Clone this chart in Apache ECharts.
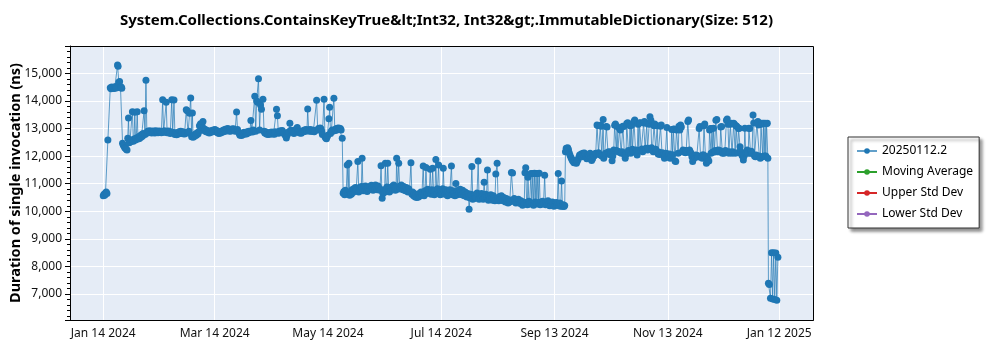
<!DOCTYPE html>
<html>
<head>
<meta charset="utf-8">
<script src="https://cdn.jsdelivr.net/npm/echarts@6/dist/echarts.min.js"></script>
<style>
  html, body { margin: 0; padding: 0; background: #ffffff; }
  #chart { width: 1000px; height: 350px; }
</style>
</head>
<body>
<div id="chart"></div>
<script>
// Benchmark history: one point per run, x = days after the first run, y = ns per call.
const FIRST_RUN = '2024-01-14';
const chartTitle = 'System.Collections.ContainsKeyTrue&lt;Int32, Int32&gt;.ImmutableDictionary(Size: 512)';
const yAxisTitle = 'Duration of single invocation (ns)';
const seriesNames = ['20250112.2', 'Moving Average', 'Upper Std Dev', 'Lower Std Dev'];
const dateTicks = ['2024-01-14', '2024-03-14', '2024-05-14', '2024-07-14', '2024-09-13', '2024-11-13', '2025-01-12'];

// January - May 2024
const winterSpring = [
  [0,10560],[0.4,10620],[0.8,10580],[1.2,10660],[1.6,10700],[2,10640],[2.5,12580],[3.8,14480],[4.2,14440],[4.6,14500],
  [5,14460],[5.4,14490],[5.8,14450],[6.2,14480],[6.6,14520],[7,14470],[7.7,15300],[8,15260],[8.4,14680],[8.8,14700],
  [9.3,14480],[9.7,14500],[10,14460],[10.4,12470],[10.8,12400],[11.2,12360],[11.6,12300],[12,12280],[12.4,12250],[12.8,12220],
  [13.2,12650],[13.6,13380],[14,12480],[14.4,12560],[14.8,12520],[15.2,12580],[15.7,13610],[16.2,12540],[16.6,12620],[17,13590],
  [17.4,12580],[17.8,12660],[18.3,13610],[18.7,12620],[19.1,12700],[19.5,12640],[19.9,12740],[20.3,12680],[20.7,12780],[21.1,12720],
  [21.5,12820],[22,13640],[22.5,12780],[23,14750],[23.5,12840],[23.9,12900],[24.3,12850],[24.8,12920],[25.2,12860],[25.6,12900],
  [26.1,12840],[26.5,12910],[26.9,12860],[27.4,12900],[27.8,12840],[28.2,12920],[28.7,12860],[29.1,12900],[29.5,12850],[30,12910],
  [30.4,12860],[30.8,12900],[31.3,12850],[32,14040],[32.5,12860],[32.9,12920],[33.4,12870],[33.9,13950],[34.4,12850],[34.8,12910],
  [35.3,12860],[35.7,12900],[36.1,12820],[36.9,14040],[37.4,12860],[38.1,14030],[38.6,12780],[39,12850],[39.5,12770],[39.9,12840],
  [40.4,12800],[40.8,12880],[41.2,12830],[41.7,12900],[42.1,12840],[42.5,12880],[43,12810],[43.4,12870],[43.8,12800],[44.7,13680],
  [45.2,13640],[45.7,12840],[46.1,12900],[46.5,13550],[47.1,14110],[47.6,12700],[48,13560],[48.4,12680],[48.8,12760],[49.2,12720],
  [49.7,12800],[50.1,12760],[50.5,12840],[51,12800],[51.4,12880],[51.8,13100],[52.4,13170],[52.8,13080],[53.1,13120],[53.7,13250],
  [54.1,13000],[54.5,12920],[55,12960],[55.4,12880],[55.8,12930],[56.3,12860],[56.7,12910],[57.1,12840],[57.6,12900],[58,12860],
  [58.4,12930],[58.9,12880],[59.3,12950],[59.7,12900],[60.2,12960],[60.6,12890],[61,12930],[61.5,12850],[61.9,12900],[62.3,12820],
  [62.8,12880],[63.2,12840],[63.6,12900],[64.1,12860],[64.5,12940],[64.9,12890],[65.4,12960],[65.8,12900],[66.2,12980],[66.7,12930],
  [67.1,13000],[67.5,12950],[68,12900],[68.4,12960],[68.8,12910],[69.3,12980],[69.7,12930],[70.1,12990],[70.6,12940],[71,12900],
  [71.8,13600],[72.3,12960],[72.8,12880],[73.2,12820],[73.6,12760],[74,12800],[74.5,12750],[74.9,12820],[75.3,12780],[75.8,12860],
  [76.2,12800],[76.6,12850],[77.1,12800],[77.5,12880],[78,12840],[78.4,12900],[78.9,12860],[79.5,13290],[80,12920],[80.4,12870],
  [80.8,12950],[81.6,14170],[82.1,12900],[82.6,14000],[83.1,13950],[83.6,14800],[84.2,12950],[84.7,13850],[85.2,13700],[86,14060],
  [86.6,12900],[87,12840],[87.4,12880],[87.9,12800],[88.3,12850],[88.7,12780],[89.2,12830],[89.6,12790],[90,12860],[90.5,12810],
  [90.9,12870],[91.3,12800],[91.8,12850],[92.2,12790],[92.6,12880],[93.3,13700],[93.8,13460],[94.3,12830],[94.7,12900],[95.1,12850],
  [95.6,12920],[96,12870],[96.4,12930],[96.9,12860],[97.3,12820],[97.8,12780],[98.2,12740],[98.6,12660],[99,12760],[99.4,12820],
  [99.9,12880],[100.5,13190],[101,12940],[101.4,12880],[101.8,12930],[102.3,12870],[102.7,12820],[103.1,12880],[103.6,12940],[104,12990],
  [104.5,13040],[104.9,12920],[105.3,12870],[105.8,12840],[106.2,12890],[106.6,12830],[107.1,12870],[107.5,12920],[107.9,12880],[108.4,12950],
  [108.8,12900],[109.2,12960],[109.7,12920],[110.1,13710],[110.6,12950],[111,12900],[111.4,12960],[111.9,12910],[112.3,12950],[112.7,12890],
  [113.2,12940],[113.6,12880],[114,12930],[114.9,14020],[115.5,12950],[115.9,13000],[116.3,12960],[116.8,13020],[117.2,12990],[117.6,12900],
  [118,12780],[118.9,14060],[119.4,12700],[119.8,12660],[120.2,12630],[120.6,12700],[120.9,12760],[121.5,13350],[121.9,13770],[122.4,12820],
  [122.8,12900],[123.3,12950],[123.7,12900],[124.2,14100],[124.7,12930],[125.1,12980],[125.5,12940],[126,13010],[126.4,12960],[126.8,13020],
  [127.2,12980],[127.7,13000],[128.1,12950],[128.7,12650]
];

// May - September 2024
const summer = [
  [129.2,10650],[129.6,10720],[130,10600],[130.4,10760],[130.8,10640],[131.4,11680],[131.9,10620],[132.3,11740],[132.7,10580],[133.1,10700],
  [133.6,10620],[134,10780],[134.4,10680],[134.9,10820],[135.3,10720],[135.8,10860],[136.2,10750],[136.6,10800],[137.1,11800],[137.6,10700],
  [138,10860],[138.5,10760],[139,10900],[139.4,11920],[139.9,10740],[140.3,10880],[140.8,10780],[141.2,10920],[141.7,10800],[142.1,10720],
  [142.6,10860],[143,10780],[143.5,10900],[143.9,10820],[144.4,10940],[144.8,10840],[145.3,10760],[145.7,10900],[146.2,10820],[146.6,10950],
  [147.1,10860],[147.5,10780],[148,10920],[148.5,10840],[149,10760],[149.6,11650],[150.2,10470],[150.6,10640],[151,10780],[151.5,10690],
  [151.9,11740],[152.4,10760],[152.8,10880],[153.2,11740],[153.7,10800],[154.1,10700],[154.6,10860],[155,10760],[155.5,10900],[155.9,10820],
  [156.4,10950],[156.8,10840],[157.3,10760],[157.7,10880],[158,11920],[158.5,10800],[159.1,11740],[159.6,10900],[160,10820],[160.5,10950],
  [160.9,10860],[161.4,10780],[161.8,10900],[162.3,10820],[162.7,10740],[163.2,10860],[163.6,10780],[164.1,10700],[164.5,10820],[164.9,10720],
  [165.7,11760],[166.2,10620],[166.6,10700],[167.1,10560],[167.5,10640],[168,10520],[168.4,10600],[168.9,10500],[169.3,10580],[169.8,10520],
  [170.2,10640],[170.7,10560],[171.1,10700],[171.6,10600],[172.3,11640],[172.8,10560],[173.3,10740],[173.8,11590],[174.3,10640],[174.7,10800],
  [175.2,10680],[175.6,10760],[176.1,11520],[176.6,10620],[177,10780],[177.4,11560],[177.9,10700],[178.3,10600],[178.7,10760],[179.1,11880],
  [179.6,10640],[180,10820],[180.6,11680],[181,10700],[181.5,10600],[181.9,10760],[182.4,10660],[182.8,10820],[183.1,11560],[183.6,10720],
  [184,10620],[184.5,10780],[184.9,10680],[185.4,10560],[185.8,10720],[186.3,10640],[186.7,10780],[187.5,11640],[188,10600],[188.4,10740],
  [188.9,10640],[189.4,10560],[189.9,11010],[190.4,10700],[190.8,10600],[191.3,10760],[191.7,10660],[192.2,10800],[192.6,10700],[193.1,10600],
  [193.5,10760],[194,10660],[194.4,10560],[194.9,10700],[195.3,10600],[195.8,10520],[196.3,10640],[196.7,10540],[197,10070],[197.5,10480],
  [198,10620],[198.5,11620],[199,10440],[199.4,10560],[199.9,10460],[200.3,10600],[200.8,10500],[201.3,10660],[201.9,11820],[202.4,10440],
  [202.8,10600],[203.3,10500],[203.7,10640],[204.2,10540],[204.6,10440],[205.1,11050],[205.6,10480],[206,10620],[206.4,10520],[206.9,11500],
  [207.4,10400],[207.8,10560],[208.3,10460],[208.7,10600],[209.2,10500],[209.6,10400],[210.1,10560],[210.5,10460],[210.9,10380],[211.4,11350],
  [212.1,11740],[212.6,10480],[213,10380],[213.5,10540],[213.9,10440],[214.4,10560],[214.8,10460],[215.3,10380],[215.7,10500],[216.2,10420],
  [216.6,10340],[217.1,10460],[217.5,10380],[218,10300],[218.4,10420],[218.9,10340],[219.8,11410],[220.4,11390],[220.9,10360],[221.3,10460],
  [221.8,10380],[222.2,10300],[222.7,10420],[223.1,10340],[223.6,10440],[224,10360],[224.5,10280],[224.9,10380],[225.4,10300],[225.8,10220],
  [226.3,10340],[226.7,10260],[227.1,11400],[227.5,11580],[228,10320],[228.4,10240],[228.7,11230],[229.2,10360],[229.6,10260],[230.3,11370],
  [230.8,10300],[231.3,11370],[231.7,10220],[232.2,11380],[232.6,10340],[233.1,11370],[233.5,10260],[234,11370],[234.4,10320],[234.8,11380],
  [235.3,10240],[235.7,10340],[236.2,10260],[236.6,10360],[237.1,10280],[237.7,11310],[238.2,10240],[238.6,10340],[239.1,10260],[239.5,10380],
  [240,10280],[240.4,10200],[240.9,10320],[241.3,10240],[241.8,10340],[242.2,10260],[242.7,10180],[243.1,10300],[243.6,10220],[244,10320],
  [244.5,10240],[245,11370],[245.5,10200],[245.9,10300],[246.3,10180],[246.8,11100],[247.3,10180],[247.7,10240],[248.1,10170],[248.5,10210]
];

// September 2024 - January 2025
const autumnWinter = [
  [248.9,12160],[249.3,12280],[249.7,12220],[250.1,12300],[250.5,12240],[250.9,12120],[251.3,12040],[251.8,11960],[252.2,11900],[252.6,11840],
  [253.1,11800],[253.5,11760],[253.9,11820],[254.4,11760],[254.8,11740],[255.2,11800],[255.7,11880],[256.1,11960],[256.5,12040],[257,12000],
  [257.4,12080],[257.8,11980],[258.3,12100],[258.7,12040],[259.1,12110],[259.6,12050],[260,11960],[260.4,11900],[260.9,11960],[261.3,12040],
  [261.7,12000],[262.2,12100],[262.6,11900],[263,11840],[263.5,11900],[263.9,12060],[264.3,12000],[264.8,12080],[265.2,12100],[265.9,13130],
  [266.3,13110],[266.7,12120],[267.2,12050],[267.7,13120],[268.1,13080],[268.5,12000],[269.2,13330],[269.5,11920],[270,12040],[270.4,12100],
  [270.9,13070],[271.3,13050],[271.8,12150],[272.2,12080],[272.6,12160],[273.1,12050],[273.5,12100],[274,11830],[274.4,12000],[274.9,12220],
  [275.4,13120],[275.8,13160],[276.3,12200],[276.7,13070],[277.1,12180],[277.6,12150],[278,13000],[278.5,12950],[278.9,12100],[279.4,12160],
  [279.8,13080],[280.3,13070],[280.7,12050],[281.1,11920],[281.5,12060],[281.9,13180],[282.4,13210],[282.8,12200],[283.2,12120],[283.7,13100],
  [284.1,12100],[284.5,13120],[285,12250],[285.4,12180],[285.8,13250],[286.2,13310],[286.7,12150],[287.1,12220],[287.5,12040],[288,13150],
  [288.4,12200],[288.8,13200],[289.2,13210],[289.7,12200],[290.1,12260],[290.5,12160],[291,13200],[291.4,13250],[291.8,12240],[292.3,12280],
  [292.7,13180],[293.1,12220],[293.6,12280],[294,13150],[294.4,13430],[294.9,13300],[295.3,12300],[295.7,12220],[296.2,12160],[296.6,13100],
  [297,13160],[297.5,12250],[297.9,12180],[298.3,13100],[298.8,12080],[299.2,12150],[299.6,12060],[300.1,13080],[300.5,13130],[300.9,12120],
  [301.4,12050],[301.8,12100],[302.2,11920],[302.7,12040],[303.1,12100],[303.5,13040],[304,12020],[304.4,11960],[304.8,12080],[305.3,11920],
  [305.7,12020],[306.1,12960],[306.6,12050],[307,12970],[307.4,12980],[307.9,11820],[308.3,11800],[308.7,12950],[309.2,12970],[309.6,12100],
  [310,13080],[310.5,12950],[310.9,13130],[311.3,13050],[311.8,12160],[312.2,12220],[312.6,12160],[313.1,12200],[313.5,12120],[313.9,12200],
  [314.4,12150],[314.8,13250],[315.2,13310],[315.7,12220],[316.1,12160],[316.5,12100],[317,11980],[317.4,11800],[317.8,11900],[318.3,12000],
  [318.7,11950],[319.1,12040],[319.6,11980],[320,12020],[320.4,11980],[320.9,13000],[321.3,13070],[321.7,11960],[322.2,12000],[322.6,11920],
  [323,12050],[323.5,13100],[323.9,13160],[324.3,12000],[324.8,11740],[325.2,11800],[325.6,11900],[326.1,11820],[326.5,12950],[326.9,13000],
  [327.3,12100],[327.8,13000],[328.2,12150],[328.6,13010],[329.1,12150],[329.5,12200],[329.9,13300],[330.4,13330],[330.8,12160],[331.2,12220],
  [331.7,12160],[332.1,12200],[332.5,13050],[333,13070],[333.4,12100],[333.8,12160],[334.3,12100],[334.7,12150],[335.1,12200],[335.6,13300],
  [336,13340],[336.4,13150],[336.9,12100],[337.3,12160],[337.7,13150],[338.2,13190],[338.6,12100],[339,12160],[339.5,13190],[339.9,13150],
  [340.3,12100],[340.8,13100],[341.2,13070],[341.6,12120],[342.1,13000],[342.5,13010],[342.9,12340],[343.4,12160],[343.8,12050],[344.2,12000],
  [344.7,11860],[345.1,12000],[345.5,13010],[346,12100],[346.4,12150],[346.8,12220],[347.3,12100],[347.7,13010],[348.1,13000],[348.6,12100],
  [349,12180],[349.4,12100],[349.9,13490],[350.3,13200],[350.7,12000],[351.2,11980],[351.6,12040],[352,13200],[352.5,13250],[352.9,13130],
  [353.3,12000],[353.8,11920],[354.2,13150],[354.6,13190],[355.1,11980],[355.5,13190],[355.9,12000],[356.4,13190],[356.8,12000],[357.2,13180],
  [357.6,13190],[357.9,11920],[358.2,7390],[358.7,7350],[359.3,6850],[359.9,8500],[360.5,6820],[361,8500],[361.6,6800],[362.2,8490],
  [362.7,6780],[363.3,8330]
];

const DAY_MS = 86400000;
const MONTHS = ['Jan', 'Feb', 'Mar', 'Apr', 'May', 'Jun', 'Jul', 'Aug', 'Sep', 'Oct', 'Nov', 'Dec'];
const toMs = (iso) => Date.parse(iso + 'T00:00:00Z');
const start = toMs(FIRST_RUN);
const runs = winterSpring.concat(summer, autumnWinter).map(([d, ns]) => [start + d * DAY_MS, ns]);
const tickMs = dateTicks.map(toMs);
const fmtDate = (v) => {
  const d = new Date(v);
  return MONTHS[d.getUTCMonth()] + ' ' + d.getUTCDate() + ' ' + d.getUTCFullYear();
};
const fmtNum = (v) => Math.round(v).toString().replace(/\B(?=(\d{3})+(?!\d))/g, ',');

const FONT = 'Noto Sans';
const GRID = { left: 70, top: 46, width: 743, height: 274 };

const chart = echarts.init(document.getElementById('chart'), null, { renderer: 'canvas' });
chart.setOption({
  animation: false,
  backgroundColor: '#ffffff',
  textStyle: { fontFamily: FONT },
  title: {
    text: chartTitle,
    left: GRID.left + GRID.width / 2,
    textAlign: 'center',
    top: 8,
    textStyle: { fontFamily: FONT, fontSize: 15, fontWeight: 'bold', color: '#000' }
  },
  legend: {
    orient: 'vertical',
    left: 848,
    top: 137,
    data: seriesNames,
    itemWidth: 20,
    itemHeight: 7,
    itemGap: 9,
    padding: [8, 6, 8, 8],
    backgroundColor: '#ffffff',
    borderColor: '#333333',
    borderWidth: 1,
    shadowColor: 'rgba(0,0,0,0.45)',
    shadowBlur: 3,
    shadowOffsetX: 3,
    shadowOffsetY: 3,
    textStyle: { fontFamily: FONT, fontSize: 12, color: '#000' }
  },
  grid: {
    left: GRID.left, top: GRID.top, width: GRID.width, height: GRID.height,
    containLabel: false,
    outerBoundsMode: 'none',
    show: true, backgroundColor: '#e5ecf6', borderWidth: 0
  },
  xAxis: {
    type: 'value',
    min: start - 17.9 * DAY_MS,
    max: start + 382.2 * DAY_MS,
    axisLine: { show: true, lineStyle: { color: '#000', width: 1 } },
    axisTick: { show: false, customValues: tickMs },
    axisLabel: { customValues: tickMs, formatter: fmtDate, fontSize: 12, color: '#111', margin: 8 },
    splitLine: { show: true, customValues: tickMs, lineStyle: { color: '#ffffff', width: 1 } }
  },
  yAxis: {
    type: 'value',
    min: 6060,
    max: 15990,
    splitNumber: 10,
    name: yAxisTitle,
    nameLocation: 'middle',
    nameGap: 47,
    nameMoveOverlap: false,
    nameTextStyle: { fontFamily: FONT, fontSize: 14.5, fontWeight: 'bold', color: '#000' },
    axisLine: { show: true, lineStyle: { color: '#000', width: 1 } },
    axisTick: { show: true, length: 5, lineStyle: { color: '#000' } },
    minorTick: { show: true, splitNumber: 5, length: 3, lineStyle: { color: '#000' } },
    axisLabel: { formatter: fmtNum, fontSize: 12, color: '#111', margin: 8, showMinLabel: false, showMaxLabel: false },
    splitLine: { show: true, lineStyle: { color: '#ffffff', width: 1 } }
  },
  graphic: [{
    type: 'rect',
    silent: true,
    z: 100,
    shape: { x: GRID.left + 0.5, y: GRID.top + 0.5, width: GRID.width, height: GRID.height },
    style: { fill: 'none', stroke: '#000', lineWidth: 1 }
  }],
  series: [
    {
      name: seriesNames[0],
      type: 'line',
      data: runs,
      symbol: 'circle',
      symbolSize: 7,
      itemStyle: { color: '#1f77b4' },
      lineStyle: { color: '#1f77b4', width: 1, opacity: 0.7 },
      z: 3
    },
    { name: seriesNames[1], type: 'line', data: [], symbol: 'circle', itemStyle: { color: '#2ca02c' }, lineStyle: { color: '#2ca02c' } },
    { name: seriesNames[2], type: 'line', data: [], symbol: 'circle', itemStyle: { color: '#d62728' }, lineStyle: { color: '#d62728' } },
    { name: seriesNames[3], type: 'line', data: [], symbol: 'circle', itemStyle: { color: '#9467bd' }, lineStyle: { color: '#9467bd' } }
  ]
});
</script>
</body>
</html>
